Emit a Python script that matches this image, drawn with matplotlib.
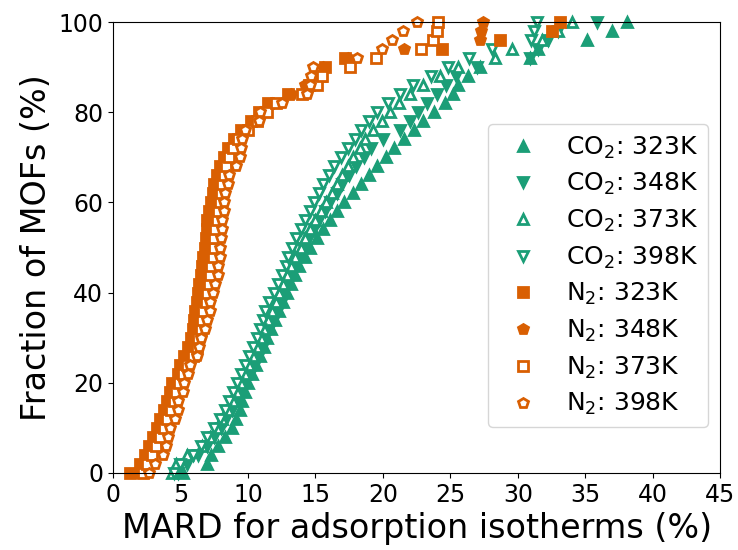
import matplotlib
matplotlib.use('Agg')
import matplotlib.pyplot as plt
import numpy as np

outfile = 'out.png'

green = '#1b9e77'
orange = '#d95f02'

# sorted MARD values (%) per gas / temperature, one per MOF
co2_323 = [5.2, 7.0, 7.3, 7.8, 8.3, 8.8, 9.1, 9.4, 9.6, 9.8, 10.0, 10.3, 10.6, 10.9, 11.2, 11.4, 11.7,
           12.0, 12.3, 12.6, 12.9, 13.2, 13.5, 13.8, 14.2, 14.6, 15.1, 15.6, 16.1, 16.6, 17.1, 17.8,
           18.4, 19.0, 19.6, 20.2, 20.8, 21.6, 22.3, 23.0, 23.8, 24.6, 25.2, 25.6, 26.3, 27.2, 30.9,
           31.5, 35.1, 37.0, 38.1]
co2_348 = [4.8, 5.5, 6.3, 7.0, 7.5, 8.0, 8.4, 8.8, 9.1, 9.4, 9.7, 10.0, 10.5, 10.8, 11.1, 11.3, 11.6,
           11.9, 12.2, 12.5, 12.7, 12.9, 13.2, 13.5, 13.8, 14.1, 14.5, 14.9, 15.3, 15.7, 16.1, 16.6,
           17.0, 17.5, 18.0, 18.6, 19.1, 20.0, 21.3, 22.0, 22.6, 23.3, 24.0, 24.7, 25.4, 27.0, 30.9,
           31.5, 32.2, 33.0, 35.9]
co2_373 = [4.4, 4.7, 5.5, 6.6, 7.2, 7.7, 8.1, 8.5, 8.9, 9.2, 9.5, 9.8, 10.1, 10.4, 10.7, 11.0, 11.2,
           11.5, 11.8, 12.1, 12.3, 12.6, 12.9, 13.2, 13.5, 13.9, 14.2, 14.6, 15.0, 15.4, 15.8, 16.2,
           16.6, 17.0, 17.4, 17.8, 18.3, 18.7, 19.3, 19.9, 20.5, 21.2, 22.0, 23.0, 24.2, 25.6, 28.3,
           29.6, 31.8, 33.0, 34.0]
co2_398 = [4.5, 5.0, 5.9, 6.5, 7.0, 7.5, 7.9, 8.3, 8.6, 8.9, 9.2, 9.5, 9.8, 10.1, 10.4, 10.7, 10.9,
           11.1, 11.3, 11.6, 11.9, 12.2, 12.5, 12.8, 13.0, 13.3, 13.6, 13.9, 14.2, 14.6, 14.9, 15.3,
           15.6, 16.0, 16.4, 16.9, 17.4, 17.9, 18.4, 19.0, 19.6, 20.4, 21.3, 22.2, 23.6, 24.8, 26.4,
           28.1, 31.0, 31.2, 31.4]
n2_323 = [1.3, 2.0, 2.4, 2.7, 3.0, 3.3, 3.5, 3.8, 4.0, 4.2, 4.4, 4.8, 5.0, 5.3, 5.6, 5.8, 5.9,
          6.0, 6.1, 6.2, 6.3, 6.4, 6.5, 6.6, 6.7, 6.8, 6.9, 7.0, 7.0, 7.1, 7.3, 7.4, 7.5, 7.7,
          7.9, 8.2, 8.5, 9.0, 9.5, 10.2, 10.8, 11.5, 13.0, 14.5, 15.4, 15.7, 17.2, 24.4, 28.7,
          32.5, 33.1]
n2_348 = [1.6, 2.1, 2.5, 2.8, 3.1, 3.4, 3.7, 3.9, 4.1, 4.3, 4.6, 4.9, 5.2, 5.5, 5.7, 5.9, 6.0,
          6.1, 6.3, 6.4, 6.5, 6.6, 6.7, 6.8, 6.9, 7.0, 7.1, 7.2, 7.3, 7.4, 7.5, 7.6, 7.7, 7.8,
          8.0, 8.3, 8.7, 9.2, 9.8, 10.4, 11.0, 11.8, 13.2, 14.2, 15.2, 15.6, 17.4, 21.6, 27.2,
          27.3, 27.4]
n2_373 = [2.2, 2.5, 2.9, 3.2, 3.5, 3.8, 4.0, 4.3, 4.5, 4.7, 4.9, 5.2, 5.5, 5.9, 6.2, 6.3, 6.5,
          6.6, 6.7, 6.9, 7.0, 7.1, 7.2, 7.3, 7.4, 7.5, 7.5, 7.6, 7.7, 7.8, 7.9, 8.0, 8.1, 8.2,
          8.4, 8.6, 8.9, 9.3, 10.0, 10.7, 11.4, 12.1, 14.0, 15.1, 15.5, 17.6, 19.5, 22.8, 23.7,
          24.0, 24.1]
n2_398 = [2.7, 3.1, 3.7, 3.9, 4.1, 4.2, 4.6, 4.8, 4.8, 5.2, 5.3, 5.6, 5.7, 6.2, 6.4, 6.5, 6.8,
          7.0, 7.2, 7.2, 7.4, 7.6, 7.8, 7.8, 7.9, 7.9, 8.0, 8.1, 8.1, 8.2, 8.2, 8.3, 8.5, 8.6,
          9.1, 9.4, 9.5, 9.6, 9.8, 10.8, 10.9, 12.5, 14.4, 14.6, 14.7, 14.8, 18.1, 19.9, 20.7,
          21.5, 22.5]

series = [(co2_323, r'CO$_2$: 323K', green, '^', True),
          (co2_348, r'CO$_2$: 348K', green, 'v', True),
          (co2_373, r'CO$_2$: 373K', green, '^', False),
          (co2_398, r'CO$_2$: 398K', green, 'v', False),
          (n2_323, r'N$_2$: 323K', orange, 's', True),
          (n2_348, r'N$_2$: 348K', orange, 'p', True),
          (n2_373, r'N$_2$: 373K', orange, 's', False),
          (n2_398, r'N$_2$: 398K', orange, 'p', False)]

fig = plt.figure(figsize=(7.38, 5.5), dpi=100)
ax = fig.add_axes([0.153, 0.14, 0.823, 0.82])

for vals, label, col, mk, filled in series:
    frac = np.arange(len(vals)) / (len(vals) - 1) * 100
    ax.plot(vals, frac, linestyle='none', marker=mk, markersize=7.5,
            markerfacecolor=col if filled else 'white', markeredgecolor=col,
            markeredgewidth=2, color=col, label=label, clip_on=False)

ax.set_xlim(0, 45)
ax.set_ylim(0, 100)
ax.set_xticks(np.arange(0, 46, 5))
ax.set_yticks(np.arange(0, 101, 20))
ax.tick_params(labelsize=17)
ax.set_xlabel('MARD for adsorption isotherms (%)', fontsize=24)
ax.set_ylabel('Fraction of MOFs (%)', fontsize=24)
ax.legend(loc='center right', bbox_to_anchor=(0.98, 0.437), fontsize=18,
          borderaxespad=0, handletextpad=0.7, labelspacing=0.42)

plt.savefig(outfile)
